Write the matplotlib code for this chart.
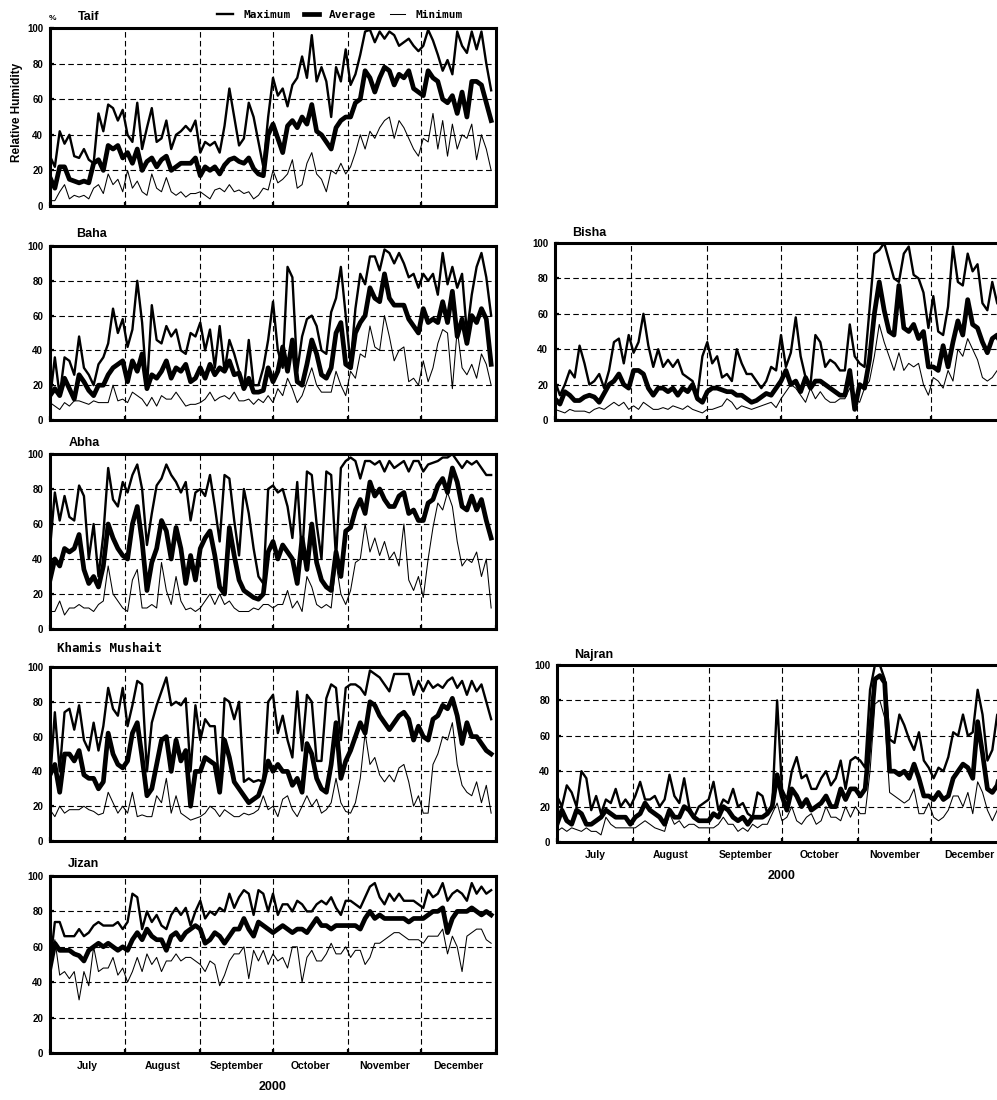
import numpy as np
import matplotlib
matplotlib.use('Agg')
import matplotlib.pyplot as plt
from matplotlib.lines import Line2D

# ---------------- data (every 2nd day, 1 Jul 2000 .. 30 Dec 2000) ----------------
days = np.arange(0, 184, 2)
month_edges = [0, 31, 62, 92, 123, 153, 184]
month_names = ['July', 'August', 'September', 'October', 'November', 'December']
year_label = '2000'
series_names = ['Maximum', 'Average', 'Minimum']

taif_max = [28, 22, 42, 35, 40, 28, 27, 32, 26, 24, 52, 42, 57, 55, 48, 54,
            40, 36, 58, 32, 44, 55, 36, 38, 48, 32, 40, 42, 45, 42, 48,
            30, 36, 34, 36, 30, 45, 66, 50, 34, 38, 58, 50, 36, 22, 50,
            72, 62, 66, 56, 68, 72, 84, 72, 96, 70, 78, 70, 50, 78, 70, 88,
            68, 74, 85, 98, 99, 92, 98, 94, 98, 96, 90, 92, 94, 90, 87,
            90, 99, 93, 85, 76, 82, 74, 98, 90, 86, 98, 88, 98, 80, 65]
taif_avg = [16, 10, 22, 22, 15, 14, 13, 14, 13, 24, 26, 20, 34, 32, 34, 27,
            30, 24, 32, 20, 25, 27, 22, 26, 28, 20, 22, 24, 24, 24, 27,
            17, 22, 20, 22, 18, 23, 26, 27, 25, 24, 27, 21, 18, 17, 40,
            46, 38, 30, 45, 48, 44, 50, 46, 57, 42, 40, 36, 32, 44, 48, 50,
            50, 58, 60, 76, 72, 64, 72, 78, 76, 68, 74, 72, 76, 66, 64,
            62, 76, 72, 70, 60, 58, 62, 52, 64, 50, 70, 70, 68, 58, 48]
taif_min = [3, 3, 8, 12, 4, 6, 5, 6, 4, 10, 12, 7, 18, 12, 15, 8,
            20, 10, 14, 8, 6, 18, 10, 8, 16, 8, 6, 8, 5, 7, 7,
            8, 6, 4, 9, 10, 8, 12, 8, 9, 7, 8, 4, 6, 10, 9,
            20, 13, 15, 18, 26, 10, 12, 24, 30, 18, 15, 8, 20, 18, 24, 18,
            22, 30, 40, 32, 42, 38, 44, 48, 50, 38, 48, 44, 38, 32, 28,
            38, 36, 52, 32, 48, 28, 46, 32, 40, 38, 46, 26, 40, 32, 20]

baha_max = [12, 36, 14, 36, 34, 26, 48, 30, 26, 20, 32, 36, 44, 64, 50, 58,
            42, 52, 80, 56, 18, 66, 46, 44, 54, 48, 52, 40, 38, 50, 48,
            56, 40, 52, 30, 54, 28, 46, 38, 28, 18, 46, 20, 20, 30, 46,
            68, 40, 30, 88, 82, 28, 48, 58, 60, 54, 40, 38, 62, 70, 88, 60,
            32, 64, 84, 78, 94, 94, 86, 98, 96, 90, 96, 90, 82, 84, 76,
            84, 80, 84, 72, 96, 78, 88, 76, 84, 50, 72, 88, 96, 82, 60]
baha_avg = [14, 18, 14, 24, 18, 12, 26, 22, 17, 14, 20, 20, 26, 30, 32, 34,
            22, 34, 28, 38, 18, 26, 24, 28, 34, 24, 30, 28, 32, 22, 24,
            30, 24, 32, 26, 30, 28, 34, 26, 27, 18, 24, 16, 16, 17, 30,
            22, 28, 42, 28, 46, 22, 20, 32, 46, 38, 26, 24, 30, 50, 56, 32,
            30, 50, 56, 60, 76, 70, 68, 84, 70, 66, 66, 66, 58, 54, 50,
            64, 56, 58, 56, 68, 56, 74, 48, 58, 44, 60, 56, 64, 58, 32]
baha_min = [10, 8, 6, 10, 8, 11, 11, 10, 9, 11, 10, 10, 10, 20, 11, 12,
            10, 16, 14, 12, 8, 13, 8, 14, 12, 12, 16, 12, 8, 9, 9,
            10, 12, 16, 11, 13, 14, 12, 16, 11, 11, 12, 9, 12, 10, 14,
            10, 18, 14, 24, 18, 10, 14, 22, 30, 20, 16, 16, 16, 28, 20, 14,
            28, 24, 38, 36, 54, 42, 40, 60, 48, 34, 40, 42, 22, 24, 20,
            34, 22, 30, 44, 52, 50, 18, 52, 30, 26, 32, 24, 38, 32, 20]

bisha_max = [22, 14, 20, 28, 24, 42, 32, 20, 22, 26, 18, 28, 44, 46, 32, 48,
             38, 44, 60, 42, 30, 40, 30, 34, 30, 34, 26, 24, 22, 14, 36,
             44, 32, 36, 24, 26, 22, 40, 32, 26, 26, 22, 18, 22, 30, 28,
             48, 30, 38, 58, 36, 24, 20, 48, 44, 30, 34, 32, 28, 28, 54, 36,
             32, 30, 62, 94, 96, 100, 90, 80, 78, 94, 98, 82, 80, 72, 52,
             70, 50, 48, 64, 98, 78, 76, 94, 84, 88, 66, 62, 78, 66, 62]
bisha_avg = [12, 9, 16, 14, 11, 11, 13, 14, 13, 10, 15, 20, 22, 26, 20, 18,
             28, 28, 26, 18, 14, 18, 18, 16, 18, 14, 18, 16, 20, 12, 10,
             16, 18, 18, 17, 16, 16, 14, 14, 12, 10, 11, 13, 15, 14, 18,
             22, 28, 20, 22, 16, 24, 18, 22, 22, 20, 18, 16, 14, 14, 28, 6,
             20, 18, 34, 60, 78, 62, 50, 48, 76, 52, 50, 54, 46, 50, 30,
             30, 28, 42, 30, 44, 56, 48, 68, 54, 52, 44, 38, 46, 48, 40]
bisha_min = [6, 5, 4, 6, 5, 5, 5, 4, 6, 7, 6, 8, 10, 8, 10, 6,
             8, 6, 10, 8, 6, 6, 7, 6, 8, 7, 6, 8, 6, 5, 4,
             6, 6, 7, 8, 12, 10, 6, 8, 7, 6, 7, 8, 9, 10, 7,
             12, 16, 20, 18, 14, 10, 18, 12, 16, 12, 10, 10, 12, 12, 18, 12,
             10, 18, 22, 36, 54, 44, 36, 28, 38, 28, 32, 30, 32, 20, 14,
             24, 22, 18, 28, 22, 40, 36, 46, 40, 34, 24, 22, 24, 28, 24]

abha_max = [46, 78, 62, 76, 64, 62, 82, 76, 40, 60, 30, 54, 92, 74, 70, 84,
            78, 88, 94, 80, 48, 66, 82, 86, 94, 88, 84, 78, 84, 62, 78,
            80, 76, 88, 70, 50, 88, 86, 62, 42, 80, 66, 46, 30, 26, 80,
            82, 78, 80, 70, 52, 84, 40, 90, 88, 60, 40, 90, 88, 40, 92, 96,
            98, 96, 86, 96, 96, 94, 96, 90, 96, 92, 94, 96, 90, 96, 96,
            90, 94, 95, 96, 98, 98, 100, 96, 92, 96, 94, 96, 92, 88, 88]
abha_avg = [28, 40, 36, 46, 44, 46, 54, 34, 26, 30, 24, 36, 60, 52, 46, 42,
            40, 60, 70, 50, 22, 38, 46, 62, 56, 40, 58, 46, 26, 42, 28,
            46, 52, 56, 42, 24, 20, 58, 42, 28, 22, 20, 18, 17, 20, 44,
            50, 40, 48, 44, 40, 26, 52, 34, 60, 38, 28, 24, 22, 44, 30, 56,
            58, 68, 74, 66, 84, 76, 80, 74, 70, 70, 76, 78, 66, 68, 62,
            62, 72, 74, 82, 86, 78, 92, 84, 70, 68, 76, 68, 74, 62, 52]
abha_min = [10, 10, 16, 8, 12, 12, 14, 12, 12, 10, 14, 16, 36, 20, 16, 12,
            10, 28, 34, 12, 12, 14, 12, 38, 22, 14, 30, 16, 11, 12, 10,
            12, 16, 20, 14, 20, 14, 16, 12, 10, 10, 10, 12, 11, 14, 14,
            12, 14, 14, 22, 12, 16, 10, 30, 24, 14, 12, 14, 12, 38, 20, 14,
            22, 38, 40, 60, 44, 52, 42, 50, 40, 44, 36, 60, 28, 22, 30,
            18, 40, 58, 72, 68, 78, 70, 50, 36, 40, 38, 44, 30, 40, 12]

khamis_max = [34, 74, 40, 74, 76, 64, 78, 58, 52, 68, 52, 66, 88, 76, 72, 88,
              66, 78, 92, 90, 40, 68, 78, 86, 94, 78, 80, 78, 82, 40, 78,
              58, 70, 66, 66, 28, 82, 80, 70, 80, 34, 36, 34, 35, 34, 80,
              84, 62, 72, 58, 48, 86, 52, 84, 80, 46, 46, 82, 90, 88, 58, 88,
              90, 90, 88, 84, 98, 96, 94, 90, 86, 96, 96, 96, 96, 84, 92,
              86, 92, 88, 90, 88, 92, 94, 88, 92, 84, 92, 86, 90, 80, 70]
khamis_avg = [38, 44, 28, 50, 50, 46, 52, 38, 36, 36, 30, 34, 62, 50, 44, 42,
              46, 62, 68, 48, 26, 30, 44, 58, 60, 40, 58, 46, 52, 20, 40,
              40, 48, 46, 44, 28, 58, 48, 34, 30, 26, 22, 24, 26, 34, 46,
              40, 44, 40, 40, 32, 36, 28, 56, 50, 36, 30, 28, 44, 68, 36, 46,
              52, 60, 68, 62, 80, 78, 72, 68, 64, 68, 72, 74, 70, 58, 66,
              60, 58, 70, 72, 78, 76, 82, 72, 56, 68, 60, 60, 56, 52, 50]
khamis_min = [18, 14, 20, 16, 18, 18, 18, 20, 18, 17, 15, 16, 28, 22, 16, 20,
              16, 28, 14, 15, 14, 14, 26, 22, 36, 16, 26, 16, 14, 12, 13,
              14, 16, 20, 18, 14, 18, 16, 14, 14, 16, 15, 16, 18, 26, 18,
              20, 14, 24, 26, 18, 14, 20, 26, 20, 24, 16, 18, 22, 36, 22, 17,
              16, 22, 36, 62, 44, 48, 38, 34, 38, 34, 42, 44, 34, 20, 26,
              16, 16, 44, 50, 60, 58, 68, 44, 32, 28, 26, 34, 22, 32, 16]

najran_max = [26, 20, 32, 28, 20, 40, 36, 18, 26, 16, 24, 22, 30, 20, 24, 20,
              26, 34, 24, 24, 26, 20, 24, 38, 26, 22, 36, 20, 14, 20, 22,
              24, 34, 18, 24, 22, 30, 20, 22, 16, 14, 28, 26, 16, 20, 80,
              30, 24, 40, 48, 36, 38, 30, 30, 36, 40, 32, 36, 46, 30, 46, 48,
              46, 42, 86, 100, 100, 92, 58, 56, 72, 66, 58, 52, 62, 46, 42,
              36, 42, 40, 48, 62, 60, 72, 60, 62, 86, 72, 46, 52, 72, 70]
najran_avg = [10, 18, 12, 10, 18, 16, 10, 10, 12, 14, 18, 16, 14, 14, 14, 10,
              14, 16, 22, 18, 16, 14, 10, 18, 14, 14, 20, 18, 14, 12, 12,
              12, 16, 14, 20, 18, 14, 12, 14, 10, 14, 14, 14, 16, 20, 38,
              26, 18, 30, 26, 20, 24, 18, 20, 22, 26, 20, 20, 30, 24, 30, 30,
              26, 30, 60, 92, 94, 90, 40, 40, 38, 40, 36, 44, 36, 26, 26,
              24, 28, 24, 26, 36, 40, 44, 42, 36, 68, 50, 30, 28, 32, 44]
najran_min = [6, 8, 6, 8, 7, 6, 8, 6, 6, 4, 14, 10, 8, 8, 8, 8,
              8, 10, 12, 10, 8, 7, 6, 16, 10, 12, 8, 10, 10, 8, 8,
              8, 8, 10, 14, 10, 10, 6, 8, 6, 10, 8, 10, 10, 16, 22,
              12, 14, 20, 12, 10, 14, 16, 10, 12, 20, 14, 14, 12, 20, 14, 20,
              16, 16, 40, 78, 80, 70, 28, 26, 24, 22, 24, 30, 16, 16, 22,
              14, 12, 14, 18, 26, 26, 20, 28, 16, 34, 28, 18, 12, 18, 28]

jizan_max = [50, 74, 74, 66, 66, 66, 70, 66, 68, 72, 74, 72, 72, 72, 74, 70,
             74, 90, 88, 70, 80, 74, 78, 72, 70, 78, 82, 78, 82, 72, 80,
             86, 76, 80, 78, 82, 80, 90, 82, 88, 92, 90, 78, 92, 90, 80,
             90, 78, 84, 84, 80, 86, 84, 80, 80, 84, 86, 84, 88, 82, 78, 86,
             86, 84, 82, 88, 94, 96, 88, 84, 90, 86, 90, 86, 86, 86, 84,
             82, 92, 88, 90, 96, 86, 90, 92, 90, 86, 96, 90, 94, 90, 92]
jizan_avg = [48, 62, 58, 58, 58, 56, 55, 52, 58, 60, 62, 60, 62, 60, 58, 60,
             58, 64, 68, 64, 70, 66, 64, 64, 58, 66, 68, 64, 68, 70, 72,
             70, 62, 64, 68, 66, 62, 66, 70, 70, 76, 70, 66, 74, 72, 70,
             68, 70, 72, 70, 68, 70, 70, 68, 72, 76, 72, 72, 70, 72, 72, 72,
             72, 72, 70, 76, 80, 76, 78, 76, 76, 76, 76, 76, 74, 76, 76,
             76, 78, 80, 80, 82, 68, 76, 80, 80, 80, 82, 80, 78, 80, 78]
jizan_min = [50, 64, 44, 46, 42, 46, 30, 46, 38, 60, 46, 48, 48, 54, 44, 48,
             40, 46, 54, 46, 56, 50, 54, 46, 52, 52, 56, 52, 54, 54, 52,
             50, 46, 52, 50, 38, 44, 52, 56, 56, 60, 42, 58, 52, 58, 50,
             56, 52, 54, 48, 60, 60, 40, 54, 58, 52, 52, 56, 62, 56, 56, 60,
             54, 58, 58, 50, 54, 62, 62, 64, 66, 68, 68, 66, 64, 64, 64,
             62, 66, 66, 66, 70, 56, 66, 60, 46, 66, 68, 70, 70, 64, 62]

stations = ['Taif', 'Baha', 'Bisha', 'Abha', 'Khamis Mushait', 'Najran', 'Jizan']
station_data = {
    'Taif': (taif_max, taif_avg, taif_min),
    'Baha': (baha_max, baha_avg, baha_min),
    'Bisha': (bisha_max, bisha_avg, bisha_min),
    'Abha': (abha_max, abha_avg, abha_min),
    'Khamis Mushait': (khamis_max, khamis_avg, khamis_min),
    'Najran': (najran_max, najran_avg, najran_min),
    'Jizan': (jizan_max, jizan_avg, jizan_min),
}

# ---------------- layout (pixels) ----------------
W, H = 997, 1100
# name: (left, top, bottom, width, title_x, title_y, title_font, show_months)
layout = {
    'Taif': (50, 28, 206, 446, 78, 17, 'sans', False),
    'Baha': (50, 246, 420, 446, 76, 234, 'sans', False),
    'Bisha': (555, 243, 420, 452, 572, 233, 'sans', False),
    'Abha': (50, 454, 629, 446, 69, 443, 'sans', False),
    'Khamis Mushait': (50, 667, 841, 446, 57, 649, 'mono', False),
    'Najran': (557, 665, 842, 450, 574, 655, 'sans', True),
    'Jizan': (50, 876, 1053, 446, 68, 864, 'sans', True),
}

SANS = ['Liberation Sans', 'DejaVu Sans']
MONO = ['DejaVu Sans Mono', 'DejaVu Sans']

plt.rcParams['font.family'] = SANS
plt.rcParams['font.weight'] = 'bold'

fig = plt.figure(figsize=(W / 100, H / 100), dpi=100)

styles = {
    'Maximum': dict(color='black', lw=1.7, zorder=3),
    'Average': dict(color='black', lw=3.4, zorder=4),
    'Minimum': dict(color='black', lw=0.75, zorder=2),
}

for name in stations:
    left, top, bottom, width, tx, ty, tfont, show_months = layout[name]
    ax = fig.add_axes([left / W, 1 - bottom / H, width / W, (bottom - top) / H])
    mx, av, mn = station_data[name]
    ax.plot(days, mn, **styles['Minimum'])
    ax.plot(days, mx, **styles['Maximum'])
    ax.plot(days, av, **styles['Average'])
    ax.set_xlim(month_edges[0], month_edges[-1])
    ax.set_ylim(0, 100)
    ax.set_yticks([0, 20, 40, 60, 80, 100])
    ax.set_xticks(month_edges)
    ax.set_xticklabels([])
    for y in [20, 40, 60, 80]:
        ax.axhline(y, color='black', lw=0.8, ls=(0, (5, 3)), zorder=1)
    for x in month_edges[1:-1]:
        ax.axvline(x, color='black', lw=0.8, ls=(0, (5, 3)), zorder=1)
    for sp in ax.spines.values():
        sp.set_linewidth(2.2)
        sp.set_zorder(6)
    ax.tick_params(axis='both', direction='in', length=3, width=1.6)
    ax.tick_params(axis='y', labelsize=7, pad=5)
    for lab in ax.get_yticklabels():
        lab.set_fontweight('bold')
        lab.set_family(SANS)
    if show_months:
        mids = [(month_edges[i] + month_edges[i + 1]) / 2 for i in range(6)]
        ax.set_xticks(mids, minor=True)
        ax.set_xticklabels(month_names, minor=True, fontsize=7.5, fontweight='bold')
        ax.tick_params(axis='x', which='minor', length=0, pad=6)
        ax.set_xlabel(year_label, fontsize=9, fontweight='bold', labelpad=7)
    fam = MONO if tfont == 'mono' else SANS
    fig.text(tx / W, 1 - ty / H, name, family=fam, fontsize=9, fontweight='bold',
             ha='left', va='center')

# y-label and % sign on the Taif panel
fig.text(17 / W, 1 - 112 / H, 'Relative Humidity', rotation=90, fontsize=8.5,
         fontweight='bold', ha='center', va='center')
fig.text(52 / W, 1 - 19 / H, '%', fontsize=6, fontweight='bold', ha='center', va='center')

handles = [Line2D([], [], **{k: v for k, v in styles[s].items() if k != 'zorder'})
           for s in series_names]
fig.legend(handles, series_names, loc='center', bbox_to_anchor=(340 / W, 1 - 15 / H),
           ncol=3, frameon=False, handlelength=1.4, handletextpad=0.9,
           columnspacing=1.2, prop=dict(family=MONO, weight='bold', size=8))

fig.savefig('out.png', dpi=100)
